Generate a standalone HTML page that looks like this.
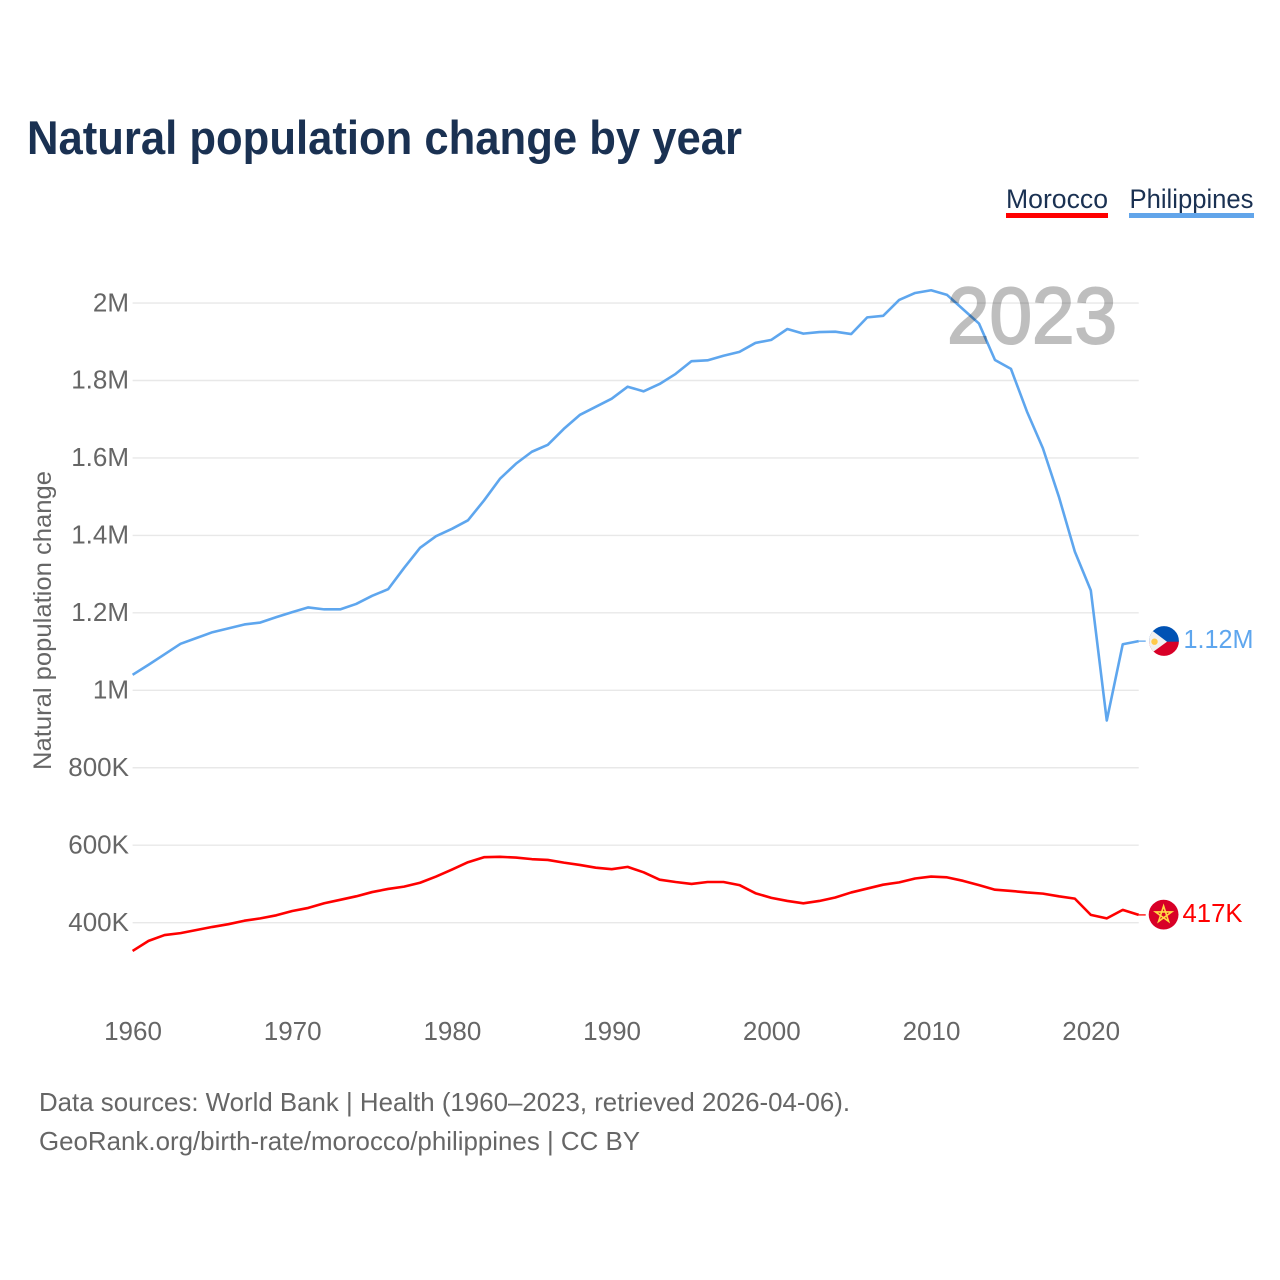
<!DOCTYPE html>
<html lang="en">
<head>
<meta charset="utf-8">
<title>Natural population change by year</title>
<style>
html,body{margin:0;padding:0;background:#fff;}
svg{display:block;}
text{font-family:"Liberation Sans",sans-serif;}
</style>
</head>
<body>
<svg id="chart" xmlns="http://www.w3.org/2000/svg" width="1280" height="1280" viewBox="0 0 1280 1280">
  <rect x="0" y="0" width="1280" height="1280" fill="#ffffff"/>
  <text x="27" y="154" font-size="47" font-weight="700" fill="#1a3152" textLength="715" lengthAdjust="spacingAndGlyphs">Natural population change by year</text>

  <g>
    <g>
      <text x="1006" y="208" font-size="27" fill="#1a3152" textLength="102" lengthAdjust="spacingAndGlyphs">Morocco</text>
      <rect x="1006" y="213" width="102" height="5" fill="#ff0000"/>
    </g>
    <g>
      <text x="1129.5" y="208" font-size="27" fill="#1a3152" textLength="124" lengthAdjust="spacingAndGlyphs">Philippines</text>
      <rect x="1129" y="213" width="125" height="5" fill="#62a5ea"/>
    </g>
  </g>

  <g id="grid"></g>
  <g id="yticks"></g>
  <g id="xticks"></g>

  <text transform="translate(51,770) rotate(-90)" font-size="25" fill="#666666" textLength="299" lengthAdjust="spacingAndGlyphs">Natural population change</text>

  <path id="line-philippines" fill="none" stroke="#5ea6ee" stroke-width="2.6" stroke-linejoin="round"/>
  <path id="line-morocco" fill="none" stroke="#ff0000" stroke-width="2.6" stroke-linejoin="round"/>
  <path id="leader-philippines" fill="none" stroke="#5ea6ee" stroke-width="1.3"/>
  <path id="leader-morocco" fill="none" stroke="#ff0000" stroke-width="1.3"/>

  <text x="947" y="343" font-size="80" font-weight="400" fill="#000000" stroke="#000000" stroke-width="2" opacity="0.25" textLength="170" lengthAdjust="spacingAndGlyphs">2023</text>

  <defs>
    <clipPath id="clip-ph"><circle cx="1164" cy="641" r="14.9"/></clipPath>
  </defs>
  <g clip-path="url(#clip-ph)">
    <rect x="1149" y="626" width="30" height="16" fill="#0052b4"/>
    <rect x="1149" y="641.7" width="30" height="16" fill="#d80027"/>
    <polygon points="1146,626 1167,641.7 1146,657" fill="#f0f0f0"/>
    <circle cx="1154.5" cy="641.7" r="3.2" fill="#ffc94a"/>
  </g>
  <text x="1183.5" y="648" font-size="26" fill="#5ea6ee" textLength="70" lengthAdjust="spacingAndGlyphs">1.12M</text>

  <g>
    <circle cx="1163.6" cy="914.6" r="14.9" fill="#d80027"/>
    <polygon points="1163.6,906 1168.6,921.4 1155.5,911.9 1171.7,911.9 1158.6,921.4" fill="none" stroke="#ffda44" stroke-width="1.6"/>
  </g>
  <text x="1182.5" y="922" font-size="26" fill="#ff0000" textLength="60" lengthAdjust="spacingAndGlyphs">417K</text>

  <g>
    <text x="39" y="1111" font-size="26" fill="#666666" textLength="811" lengthAdjust="spacingAndGlyphs">Data sources: World Bank | Health (1960–2023, retrieved 2026-04-06).</text>
    <text x="39" y="1150" font-size="26" fill="#666666" textLength="601" lengthAdjust="spacingAndGlyphs">GeoRank.org/birth-rate/morocco/philippines | CC BY</text>
  </g>
</svg>

<script>
var years = [1960,1961,1962,1963,1964,1965,1966,1967,1968,1969,1970,1971,1972,1973,1974,1975,1976,1977,1978,1979,1980,1981,1982,1983,1984,1985,1986,1987,1988,1989,1990,1991,1992,1993,1994,1995,1996,1997,1998,1999,2000,2001,2002,2003,2004,2005,2006,2007,2008,2009,2010,2011,2012,2013,2014,2015,2016,2017,2018,2019,2020,2021,2022,2023];
var philippinesValues = [1040000,1066000,1093000,1120000,1135000,1150000,1160000,1170000,1175000,1189000,1202000,1214000,1209000,1209000,1223000,1244000,1261000,1316000,1368000,1398000,1417000,1439000,1490000,1546000,1585000,1616000,1634000,1675000,1711000,1732000,1753000,1784000,1772000,1791000,1817000,1850000,1852000,1864000,1874000,1897000,1905000,1933000,1921000,1925000,1926000,1920000,1963000,1967000,2008000,2026000,2033000,2021000,1984000,1947000,1853000,1830000,1720000,1625000,1500000,1358000,1258000,922000,1119000,1127000];
var moroccoValues = [327000,353000,368000,373000,381000,389000,396000,405000,411000,419000,430000,438000,450000,459000,468000,479000,487000,493000,503000,519000,537000,556000,569000,570000,568000,564000,562000,555000,549000,542000,538000,544000,530000,511000,505000,500000,505000,505000,497000,476000,464000,456000,450000,456000,465000,478000,488000,498000,504000,514000,519000,517000,508000,497000,485000,482000,478000,475000,468000,462000,420000,411000,433000,420000];
var yTickValues = [400000,600000,800000,1000000,1200000,1400000,1600000,1800000,2000000];
var yTickLabels = ["400K","600K","800K","1M","1.2M","1.4M","1.6M","1.8M","2M"];
var xTickValues = [1960,1970,1980,1990,2000,2010,2020];
var xTickLabels = ["1960","1970","1980","1990","2000","2010","2020"];

var SVG_NS = "http://www.w3.org/2000/svg";
var X0 = 132.6, X_PER_YEAR = 15.97;
var Y_1M = 690.3, Y_PER_UNIT = 77.45 / 200000;

function xScale(year) { return X0 + (year - 1960) * X_PER_YEAR; }
function yScale(value) { return Y_1M - (value - 1000000) * Y_PER_UNIT; }

function linePath(xs, ys) {
  var d = "";
  for (var i = 0; i < xs.length; i++) {
    d += (i ? "L" : "M") + xScale(xs[i]).toFixed(2) + " " + yScale(ys[i]).toFixed(2);
  }
  return d;
}

var gridGroup = document.getElementById("grid");
var yTickGroup = document.getElementById("yticks");
var xTickGroup = document.getElementById("xticks");
var xEnd = xScale(years[years.length - 1]);

yTickValues.forEach(function (value, i) {
  var gridLine = document.createElementNS(SVG_NS, "line");
  
  
  gridLine.setAttribute("x1", X0);
  gridLine.setAttribute("x2", xEnd);
  gridLine.setAttribute("y1", yScale(value));
  gridLine.setAttribute("y2", yScale(value));
  gridLine.setAttribute("stroke", "#e8e8e8");
  gridLine.setAttribute("stroke-width", "1.4");
  gridGroup.appendChild(gridLine);

  var label = document.createElementNS(SVG_NS, "text");
  
  
  label.setAttribute("x", 129);
  label.setAttribute("y", yScale(value) + 8.2);
  label.setAttribute("text-anchor", "end");
  label.setAttribute("font-size", "26");
  label.setAttribute("fill", "#666666");
  label.textContent = yTickLabels[i];
  yTickGroup.appendChild(label);
});

xTickValues.forEach(function (year, i) {
  var label = document.createElementNS(SVG_NS, "text");
  
  
  label.setAttribute("x", xScale(year) + 0.4);
  label.setAttribute("y", 1040);
  label.setAttribute("text-anchor", "middle");
  label.setAttribute("font-size", "26");
  label.setAttribute("fill", "#666666");
  label.textContent = xTickLabels[i];
  xTickGroup.appendChild(label);
});

document.getElementById("line-philippines").setAttribute("d", linePath(years, philippinesValues));
document.getElementById("line-morocco").setAttribute("d", linePath(years, moroccoValues));
document.getElementById("leader-philippines").setAttribute("d", "M" + xEnd + " " + yScale(philippinesValues[philippinesValues.length - 1]) + "h7");
document.getElementById("leader-morocco").setAttribute("d", "M" + xEnd + " " + yScale(moroccoValues[moroccoValues.length - 1]) + "h7");
</script>
</body>
</html>
